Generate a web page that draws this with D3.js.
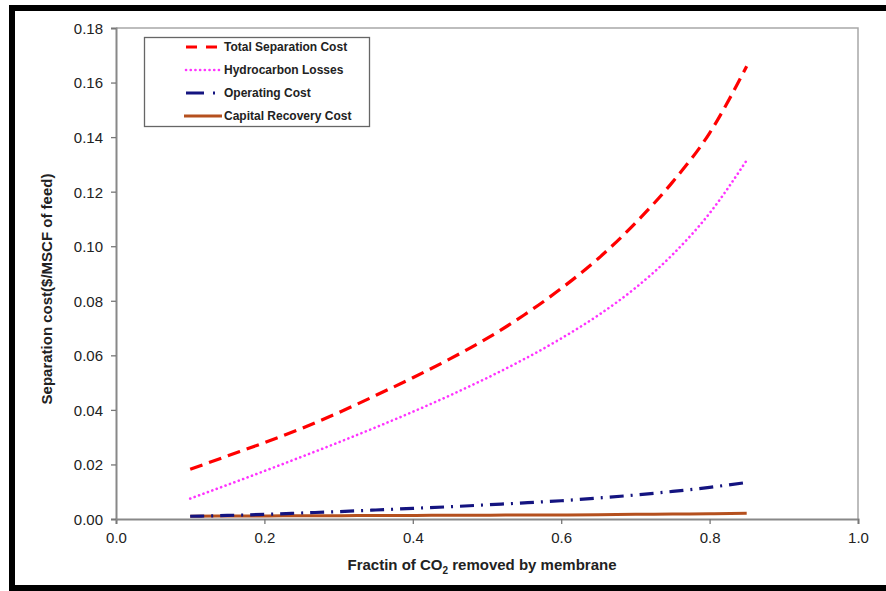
<!DOCTYPE html>
<html>
<head>
<meta charset="utf-8">
<script src="https://cdn.jsdelivr.net/npm/d3@7"></script>
<style>
  body { margin: 0; background: #fff; }
  text { font-family: "Liberation Sans", Arial, sans-serif; }
</style>
</head>
<body>
<div id="chart"></div>
<script>
// fraction of CO2 removed
var fraction = [0.10, 0.15, 0.20, 0.25, 0.30, 0.35, 0.40, 0.45, 0.50, 0.55, 0.60, 0.65, 0.70, 0.75, 0.80, 0.85];
var totalCost = [0.0182, 0.0231, 0.0280, 0.0332, 0.0390, 0.0453, 0.0518, 0.0587, 0.0662, 0.0748, 0.0845, 0.0955, 0.1085, 0.1235, 0.1415, 0.1660];
var hcLosses = [0.0075, 0.0125, 0.0176, 0.0228, 0.0281, 0.0336, 0.0393, 0.0453, 0.0517, 0.0586, 0.0662, 0.0747, 0.0847, 0.0969, 0.1121, 0.1315];
var operating = [0.0010, 0.0013, 0.0017, 0.0022, 0.0027, 0.0033, 0.0039, 0.0045, 0.0052, 0.0059, 0.0067, 0.0077, 0.0088, 0.0101, 0.0116, 0.0134];
var capital = [0.0010, 0.0011, 0.0011, 0.0012, 0.0012, 0.0013, 0.0013, 0.0014, 0.0014, 0.0015, 0.0015, 0.0016, 0.0017, 0.0018, 0.0019, 0.0021];
var seriesNames = ["Total Separation Cost", "Hydrocarbon Losses", "Operating Cost", "Capital Recovery Cost"];
var xTicks = [0, 0.2, 0.4, 0.6, 0.8, 1.0];
var yTicks = [0, 0.02, 0.04, 0.06, 0.08, 0.10, 0.12, 0.14, 0.16, 0.18];

var W = 886, H = 591;
var margin = { top: 28, right: 28, bottom: 72, left: 116 };
var width = 858 - margin.left, height = 519 - margin.top;

var styles = [
    { color: "#ff0000", width: 3.2, dash: "13,7", cap: "butt" },
    { color: "#ff33ff", width: 2.6, dash: "0.1,4.6", cap: "round" },
    { color: "#141480", width: 3.2, dash: "14,7,2,7", cap: "butt" },
    { color: "#b5501e", width: 3, dash: null, cap: "butt" }
];

var svg = d3.select("#chart").append("svg")
    .attr("width", W)
    .attr("height", H);

// outer black frame (right side cut off)
svg.append("rect")
    .attr("x", 12).attr("y", 8)
    .attr("width", 900).attr("height", 580)
    .style("fill", "white")
    .style("stroke", "black")
    .style("stroke-width", 6);

var g = svg.append("g")
    .attr("transform", "translate(" + margin.left + "," + margin.top + ")");

var x = d3.scaleLinear().domain([0, 1]).range([0, width]);
var y = d3.scaleLinear().domain([0, 0.18]).range([height, 0]);

// plot frame top/right
g.append("path")
    .attr("d", "M0,0H" + width + "V" + height)
    .style("fill", "none")
    .style("stroke", "#a8a8a8")
    .style("stroke-width", 1.5);

var xAxis = g.append("g")
    .attr("transform", "translate(0," + height + ")")
    .call(d3.axisBottom(x).tickValues(xTicks).tickFormat(d3.format(".1f")).tickSizeOuter(0).tickSize(5).tickPadding(5));
var yAxis = g.append("g")
    .call(d3.axisLeft(y).tickValues(yTicks).tickFormat(d3.format(".2f")).tickSizeOuter(0).tickSize(5).tickPadding(8));

[xAxis, yAxis].forEach(function (a) {
    a.select(".domain").style("stroke", "#888").style("stroke-width", 2);
    a.selectAll(".tick line").style("stroke", "#777").style("stroke-width", 1.3);
    a.selectAll(".tick text")
        .style("font-size", "15px")
        .style("fill", "#222")
        .style("font-family", "'Liberation Sans', Arial, sans-serif");
});
xAxis.selectAll(".tick text").attr("dy", "0.95em");
yAxis.selectAll(".tick text").attr("dy", "0.36em");

var allSeries = [totalCost, hcLosses, operating, capital];
var line = d3.line()
    .x(function (d, i) { return x(fraction[i]); })
    .y(function (d) { return y(d); })
    .curve(d3.curveMonotoneX);

// draw capital first so others sit on top
[3, 2, 1, 0].forEach(function (k) {
    g.append("path")
        .datum(allSeries[k])
        .attr("d", line)
        .style("fill", "none")
        .style("stroke", styles[k].color)
        .style("stroke-width", styles[k].width)
        .style("stroke-linecap", styles[k].cap)
        .style("stroke-dasharray", styles[k].dash);
});

// legend
var lg = svg.append("g");
lg.append("rect")
    .attr("x", 144.5).attr("y", 37.5)
    .attr("width", 225).attr("height", 89)
    .style("fill", "white")
    .style("stroke", "#666")
    .style("stroke-width", 1.3);

var legendRows = [47, 70, 93, 116];
seriesNames.forEach(function (name, i) {
    var ly = legendRows[i];
    var x1 = i == 3 ? 184 : 186;
    var x2 = i == 3 ? 222 : 219;
    var d = "M" + x1 + "," + ly + "H" + x2;
    var st = styles[i];
    var dash = st.dash;
    if (i == 0) dash = "11,9";
    if (i == 2) dash = "18,9,2,9";
    lg.append("path")
        .attr("d", d)
        .style("stroke", st.color)
        .style("stroke-width", st.width)
        .style("stroke-linecap", st.cap)
        .style("stroke-dasharray", dash);
    lg.append("text")
        .attr("x", 224)
        .attr("y", ly)
        .attr("dy", "0.36em")
        .style("font-size", "12px")
        .style("font-weight", "bold")
        .style("fill", "#222")
        .text(name);
});

// axis titles
var xt = svg.append("text")
    .attr("x", 482)
    .attr("y", 565)
    .attr("dy", "0.36em")
    .attr("text-anchor", "middle")
    .style("font-size", "15px")
    .style("font-weight", "bold")
    .style("fill", "#222");
xt.append("tspan").text("Fractin of CO");
xt.append("tspan").attr("dy", "4").style("font-size", "10px").text("2");
xt.append("tspan").attr("dy", "-4").text(" removed by membrane");

svg.append("text")
    .attr("transform", "translate(47,289) rotate(-90)")
    .attr("dy", "0.36em")
    .attr("text-anchor", "middle")
    .style("font-size", "15px")
    .style("font-weight", "bold")
    .style("fill", "#222")
    .text("Separation cost($/MSCF of feed)");
</script>
</body>
</html>
